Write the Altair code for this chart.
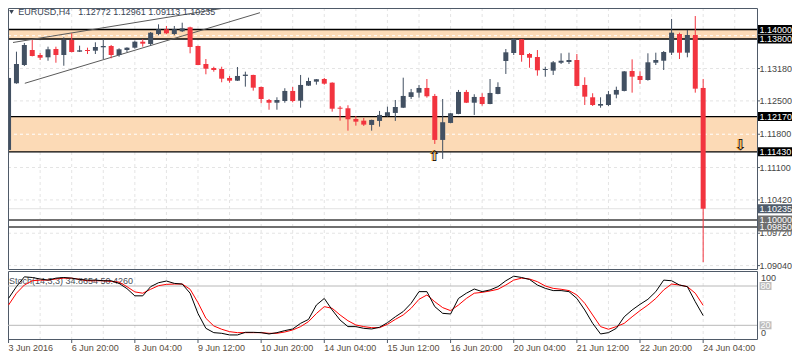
import altair as alt
import pandas as pd

# ---------------- data ----------------
bars = list(range(89))
opens = [1.11470, 1.12870, 1.13254, 1.13569, 1.13464, 1.13416, 1.13590, 1.13464, 1.13780, 1.13534,
         1.13569, 1.13555, 1.13626, 1.13654, 1.13464, 1.13569, 1.13618, 1.13744, 1.13696, 1.13905,
         1.14004, 1.13905, 1.13962, 1.14046, 1.13654, 1.13275, 1.13191, 1.13170, 1.12982, 1.12925,
         1.13024, 1.13045, 1.12793, 1.12519, 1.12462, 1.12498, 1.12709, 1.12504, 1.12820, 1.12904,
         1.12960, 1.12883, 1.12357, 1.12345, 1.12121, 1.12085, 1.11995, 1.12079, 1.12184, 1.12247,
         1.12357, 1.12583, 1.12673, 1.12772, 1.12604, 1.11680, 1.12037, 1.12226, 1.12688, 1.12462,
         1.12583, 1.12435, 1.12646, 1.13338, 1.13506, 1.13794, 1.13485, 1.13422, 1.13149, 1.13135,
         1.13302, 1.13317, 1.13359, 1.12835, 1.12576, 1.12400, 1.12414, 1.12632, 1.12709, 1.13128,
         1.13024, 1.12939, 1.13302, 1.13344, 1.13513, 1.13905, 1.13513, 1.13884, 1.12772]
highs = [1.13003, 1.13534, 1.13717, 1.13780, 1.13506, 1.13639, 1.13639, 1.13836, 1.13920, 1.13660,
         1.13618, 1.13731, 1.13801, 1.13675, 1.13605, 1.13626, 1.13765, 1.13794, 1.13947, 1.14109,
         1.14074, 1.14074, 1.14143, 1.14059, 1.13660, 1.13380, 1.13218, 1.13218, 1.13024, 1.13212,
         1.13114, 1.13050, 1.12800, 1.12540, 1.12576, 1.12766, 1.12793, 1.13045, 1.12988, 1.12960,
         1.12982, 1.12890, 1.12393, 1.12408, 1.12184, 1.12142, 1.12105, 1.12289, 1.12379, 1.12519,
         1.12988, 1.12751, 1.12835, 1.12960, 1.12646, 1.12540, 1.12245, 1.12730, 1.12730, 1.12640,
         1.12661, 1.12960, 1.12891, 1.13590, 1.13815, 1.13800, 1.13506, 1.13569, 1.13218, 1.13338,
         1.13500, 1.13513, 1.13485, 1.12996, 1.12661, 1.12576, 1.12709, 1.12799, 1.13128, 1.13373,
         1.13122, 1.13500, 1.13513, 1.13548, 1.14221, 1.13933, 1.13990, 1.14283, 1.12961]
lows = [1.11365, 1.12860, 1.13233, 1.13435, 1.13359, 1.13344, 1.13302, 1.13239, 1.13520, 1.13527,
        1.13485, 1.13485, 1.13380, 1.13395, 1.13428, 1.13527, 1.13597, 1.13639, 1.13654, 1.13878,
        1.13905, 1.13878, 1.13947, 1.13500, 1.13250, 1.13059, 1.13114, 1.12891, 1.12883, 1.12918,
        1.12799, 1.12715, 1.12450, 1.12315, 1.12315, 1.12462, 1.12470, 1.12357, 1.12815, 1.12841,
        1.12841, 1.12274, 1.12085, 1.11875, 1.11980, 1.11974, 1.11875, 1.11959, 1.12169, 1.12079,
        1.12350, 1.12540, 1.12568, 1.12568, 1.11596, 1.11281, 1.12030, 1.12220, 1.12455, 1.12205,
        1.12400, 1.12430, 1.12640, 1.13066, 1.13464, 1.13323, 1.13197, 1.13030, 1.13009, 1.13045,
        1.13275, 1.13275, 1.12810, 1.12414, 1.12393, 1.12357, 1.12393, 1.12555, 1.12700, 1.12673,
        1.12856, 1.12925, 1.13254, 1.13149, 1.13464, 1.13380, 1.13416, 1.12673, 1.09113]
closes = [1.12982, 1.13275, 1.13675, 1.13443, 1.13407, 1.13584, 1.13464, 1.13780, 1.13527, 1.13563,
          1.13548, 1.13633, 1.13654, 1.13464, 1.13584, 1.13618, 1.13744, 1.13702, 1.13933, 1.14004,
          1.13920, 1.14004, 1.14025, 1.13633, 1.13254, 1.13176, 1.13149, 1.12967, 1.12925, 1.13024,
          1.13052, 1.12778, 1.12540, 1.12462, 1.12519, 1.12709, 1.12498, 1.12835, 1.12918, 1.12955,
          1.12862, 1.12336, 1.12336, 1.12114, 1.12064, 1.12002, 1.12100, 1.12205, 1.12262, 1.12372,
          1.12604, 1.12682, 1.12772, 1.12597, 1.11680, 1.12052, 1.12240, 1.12688, 1.12462, 1.12583,
          1.12435, 1.12667, 1.12793, 1.13521, 1.13801, 1.13464, 1.13407, 1.13143, 1.13170, 1.13311,
          1.13344, 1.13359, 1.12814, 1.12589, 1.12414, 1.12435, 1.12640, 1.12730, 1.13120, 1.13009,
          1.12939, 1.13311, 1.13359, 1.13527, 1.13933, 1.13513, 1.13884, 1.12757, 1.10235]

stoch_k = [61.2, 79, 94, 93, 90.7, 89, 92, 93, 92, 90,
           89, 89, 88, 88, 84, 76, 65, 65, 79, 85,
           87.6, 84, 83, 69, 38, 15.4, 8.8, 7.8, 5.3, 5.3,
           9.3, 9.3, 8.8, 6.8, 8.8, 11.9, 14.4, 23, 29, 51,
           61, 43.4, 28, 18, 18, 15.4, 14.4, 17, 24, 33,
           41, 53.6, 71.4, 71.4, 48.5, 38.3, 37.3, 61, 69, 75.4,
           71.4, 74, 79, 88, 95, 93, 90, 81.5, 76.4, 73,
           73, 71.4, 61, 43.4, 23, 6.8, 8.8, 15.4, 33, 43.4,
           52, 59.7, 71.4, 89, 88, 81.5, 79, 56, 34.8654]
stoch_d = [51, 69, 81.5, 88, 89, 89, 90.7, 92, 92, 90,
           88, 88, 88, 87, 86, 79, 71, 69, 75, 80.5,
           82.5, 83, 83, 75, 54.6, 30.7, 19, 14, 10.3, 8.8,
           8.8, 8.8, 8.8, 7.8, 7.8, 9.8, 12.9, 18, 25.6, 38,
           48.5, 46, 35.8, 27, 20.5, 18, 16.4, 16.4, 21.5, 29,
           35.8, 46, 59.7, 66.3, 56, 47, 42.4, 51, 61, 69,
           70.3, 72.4, 75, 81.5, 89, 92, 90.7, 86.6, 80, 76.4,
           75, 73, 66.3, 53.6, 35.8, 18, 14, 18, 23, 33,
           42.4, 51, 61, 74, 83, 81.5, 79, 69, 50.4260]

date_bars = [0, 8, 16, 24, 32, 40, 48, 56, 64, 72, 80, 88]
date_labels = ["3 Jun 2016", "6 Jun 20:00", "8 Jun 04:00", "9 Jun 12:00", "10 Jun 20:00",
               "14 Jun 04:00", "15 Jun 12:00", "16 Jun 20:00", "20 Jun 04:00", "21 Jun 12:00",
               "22 Jun 20:00", "24 Jun 04:00"]
grid_bars = [4, 8, 12, 16, 20, 24, 28, 32, 36, 40, 44, 48, 52, 56, 60, 64, 68, 72, 76, 80, 84, 88, 92]

grid_prices = [1.1318, 1.1250, 1.1110, 1.1042, 1.0972, 1.0904]
grid_prices_in_band = [1.1387, 1.1180]
plain_label_prices = [1.1318, 1.1250, 1.1180, 1.1110, 1.1042, 1.0972, 1.0904]
plain_label_texts = ["1.13180", "1.12500", "1.11800", "1.11100", "1.10420", "1.09720", "1.09040"]

band_low = [1.1380, 1.1143]
band_high = [1.1400, 1.1217]
level_black = [1.1400, 1.1380, 1.1217, 1.1143]
level_gray = [1.1000, 1.0985]
current_price = [1.10235]

box_prices = [1.1400, 1.1380, 1.1217, 1.1143, 1.10235, 1.1000, 1.0985]
box_texts = ["1.14000", "1.13800", "1.12170", "1.11430", "1.10235", "1.10000", "1.09850"]
box_colors = ["#000000", "#000000", "#000000", "#000000", "#4f5b6a", "#6e6e6e", "#6e6e6e"]

trend_id = ["a", "a", "b", "b"]
trend_bar = [0.5625, 27.9, 2.06, 31.85]
trend_price = [1.13727, 1.14466, 1.12870, 1.14353]

arrow_bar = [54, 92.78]
arrow_price = [1.11344, 1.11575]
arrow_glyph = ["⇧", "⇩"]

stoch_levels = [80, 20]
stoch_box_values = [80, 20]
stoch_box_texts = ["80", "20"]

# ---------------- styling ----------------
BULL = "#425062"
BEAR = "#F2343F"
BAND = "#FCDAB6"
GRID = "#e4e4e4"
FRAME = "#4F5A68"
TXT = "#454545"
FONT = "Liberation Sans"

W, H = 749, 331
MAIN_B = 261
SUB_T, SUB_B = 263, 331

xs = alt.Scale(domain=[0.5625, 94.1875], range=[0, W], clamp=True, nice=False, zero=False)
ps = alt.Scale(domain=[1.089685, 1.144517], range=[MAIN_B, 0], nice=False, zero=False)
ss = alt.Scale(domain=[-0.9, 102.9], range=[SUB_B, SUB_T], nice=False, zero=False)

one = pd.DataFrame({"k": [0]})

def X(f):
    return alt.X(f, scale=xs, axis=None)

def P(f):
    return alt.Y(f, scale=ps, axis=None)

def S(f):
    return alt.Y(f, scale=ss, axis=None)

candles = pd.DataFrame(dict(bar=bars, open=opens, high=highs, low=lows, close=closes))
candles["dir"] = ["up" if c >= o else "down" for o, c in zip(opens, closes)]
ccol = alt.Color("dir:N", scale=alt.Scale(domain=["up", "down"], range=[BULL, BEAR]), legend=None)

layers = []

# vertical grid
vg = pd.DataFrame({"bar": grid_bars})
layers.append(alt.Chart(vg).mark_rule(color=GRID, strokeDash=[3, 3], strokeWidth=1).encode(
    x=X("bar:Q"), y=alt.value(0), y2=alt.value(MAIN_B)))
layers.append(alt.Chart(vg).mark_rule(color=GRID, strokeDash=[3, 3], strokeWidth=1).encode(
    x=X("bar:Q"), y=alt.value(SUB_T), y2=alt.value(SUB_B)))
# horizontal grid
layers.append(alt.Chart(pd.DataFrame({"p": grid_prices})).mark_rule(
    color=GRID, strokeDash=[3, 3], strokeWidth=1).encode(
    y=P("p:Q"), x=alt.value(0), x2=alt.value(W)))
# bands
layers.append(alt.Chart(pd.DataFrame({"lo": band_low, "hi": band_high})).mark_rect(color=BAND).encode(
    y=P("lo:Q"), y2="hi:Q", x=alt.value(0), x2=alt.value(W)))
layers.append(alt.Chart(pd.DataFrame({"p": grid_prices_in_band})).mark_rule(
    color="white", strokeDash=[3, 3], strokeWidth=1).encode(
    y=P("p:Q"), x=alt.value(0), x2=alt.value(W)))
# current price line
layers.append(alt.Chart(pd.DataFrame({"p": current_price})).mark_rule(color="#e2e2e2", strokeWidth=1).encode(
    y=P("p:Q"), x=alt.value(0), x2=alt.value(W)))
# levels
layers.append(alt.Chart(pd.DataFrame({"p": level_black})).mark_rule(color="black", strokeWidth=1.3).encode(
    y=P("p:Q"), x=alt.value(0), x2=alt.value(W)))
layers.append(alt.Chart(pd.DataFrame({"p": level_gray})).mark_rule(color="#707070", strokeWidth=2).encode(
    y=P("p:Q"), x=alt.value(0), x2=alt.value(W)))
# trend lines
tl = pd.DataFrame({"id": trend_id, "bar": trend_bar, "p": trend_price})
layers.append(alt.Chart(tl).mark_line(color="#5a5a5a", strokeWidth=1).encode(
    x=X("bar:Q"), y=P("p:Q"), detail="id:N"))
# candles
layers.append(alt.Chart(candles).mark_rule(strokeWidth=1).encode(
    x=X("bar:Q"), y=P("low:Q"), y2="high:Q", color=ccol))
layers.append(alt.Chart(candles).mark_bar(size=5, orient="vertical").encode(
    x=X("bar:Q"), y=P("open:Q"), y2="close:Q", color=ccol))
# arrows
ar = pd.DataFrame({"bar": arrow_bar, "p": arrow_price, "g": arrow_glyph})
layers.append(alt.Chart(ar).mark_text(font="DejaVu Sans", fontSize=15, color="#f0a020", dx=-1,
                                      baseline="middle", align="center").encode(
    x=X("bar:Q"), y=P("p:Q"), text="g:N"))
layers.append(alt.Chart(ar).mark_text(font="DejaVu Sans", fontSize=15, color="black",
                                      baseline="middle", align="center").encode(
    x=X("bar:Q"), y=P("p:Q"), text="g:N"))
# title
layers.append(alt.Chart(one).mark_point(shape="triangle-down", filled=True, size=22, color="#3a4555", opacity=1).encode(
    x=alt.value(3.5), y=alt.value(4)))
layers.append(alt.Chart(one).mark_text(text="EURUSD,H4", font=FONT, fontSize=9, color="#3a4555",
                                       align="left", baseline="middle").encode(x=alt.value(10.3), y=alt.value(4)))
layers.append(alt.Chart(one).mark_text(text="1.12772 1.12961 1.09113 1.10235", font=FONT, fontSize=9,
                                       color="#3a4555", align="left", baseline="middle").encode(
    x=alt.value(70.3), y=alt.value(4)))
# frames
layers.append(alt.Chart(one).mark_rect(fillOpacity=0, stroke=FRAME, strokeWidth=1).encode(
    x=alt.value(0.5), x2=alt.value(W + 0.5), y=alt.value(0.5), y2=alt.value(MAIN_B + 0.5)))
layers.append(alt.Chart(one).mark_rect(fillOpacity=0, stroke=FRAME, strokeWidth=1).encode(
    x=alt.value(0.5), x2=alt.value(W + 0.5), y=alt.value(SUB_T + 0.5), y2=alt.value(SUB_B + 0.5)))
# right price labels
pl = pd.DataFrame({"p": plain_label_prices, "t": plain_label_texts})
layers.append(alt.Chart(pl).mark_rule(color=FRAME, strokeWidth=1).encode(
    y=P("p:Q"), x=alt.value(W), x2=alt.value(W + 3)))
layers.append(alt.Chart(pl).mark_text(font=FONT, fontSize=9, color=TXT, align="left", baseline="middle").encode(
    y=P("p:Q"), x=alt.value(W + 2.5), text="t:N"))
bx = pd.DataFrame({"p": box_prices, "t": box_texts, "c": box_colors})
layers.append(alt.Chart(bx).mark_tick(orient="horizontal", size=34, thickness=9, opacity=1).encode(
    y=P("p:Q"), x=alt.value(W + 18), color=alt.Color("c:N", scale=None)))
layers.append(alt.Chart(bx).mark_text(font=FONT, fontSize=9, color="white", align="left", baseline="middle").encode(
    y=P("p:Q"), x=alt.value(W + 2.5), text="t:N"))

# stochastic panel
layers.append(alt.Chart(pd.DataFrame({"v": stoch_levels})).mark_rule(color="#b8b8b8", strokeWidth=1).encode(
    y=S("v:Q"), x=alt.value(0), x2=alt.value(W)))
layers.append(alt.Chart(one).mark_text(text="Stoch(14,3,3) 34.8654 50.4260", font=FONT, fontSize=9,
                                       color="#4a4f58", align="left", baseline="middle").encode(
    x=alt.value(1), y=alt.value(272.7)))
st = pd.DataFrame({"bar": bars, "k": stoch_k, "d": stoch_d})
layers.append(alt.Chart(st).mark_line(color="#ff0000", strokeWidth=1).encode(x=X("bar:Q"), y=S("d:Q")))
layers.append(alt.Chart(st).mark_line(color="black", strokeWidth=1).encode(x=X("bar:Q"), y=S("k:Q")))
sb = pd.DataFrame({"v": stoch_box_values, "t": stoch_box_texts})
layers.append(alt.Chart(sb).mark_tick(orient="horizontal", size=12, thickness=8, color="#bcbcbc", opacity=1).encode(
    y=S("v:Q"), x=alt.value(W + 8.5)))
layers.append(alt.Chart(sb).mark_text(font=FONT, fontSize=9, color="white", align="left", baseline="middle").encode(
    y=S("v:Q"), x=alt.value(W + 3.5), text="t:N"))
layers.append(alt.Chart(one).mark_text(text="100", font=FONT, fontSize=9, color=TXT, align="left",
                                       baseline="middle").encode(x=alt.value(W + 4), y=alt.value(270.3)))
layers.append(alt.Chart(one).mark_text(text="0", font=FONT, fontSize=9, color=TXT, align="left",
                                       baseline="middle").encode(x=alt.value(W + 4), y=alt.value(325)))

# date axis
dl = pd.DataFrame({"bar": date_bars, "t": date_labels})
layers.append(alt.Chart(dl).mark_rule(color=FRAME, strokeWidth=1).encode(
    x=X("bar:Q"), y=alt.value(SUB_B), y2=alt.value(SUB_B + 4)))
layers.append(alt.Chart(dl).mark_text(font=FONT, fontSize=9, color="#584c3e", align="left", baseline="middle").encode(
    x=X("bar:Q"), y=alt.value(340.3), text="t:N"))

chart = alt.layer(*layers).resolve_scale(y="independent").properties(
    width=W, height=H,
    autosize=alt.AutoSizeParams(type="none"),
    padding={"left": 0, "top": 0, "right": 35, "bottom": 13},
    background="white",
).configure_view(strokeWidth=0)

chart.save("out.html", embed_options={"renderer": "svg", "actions": False})
